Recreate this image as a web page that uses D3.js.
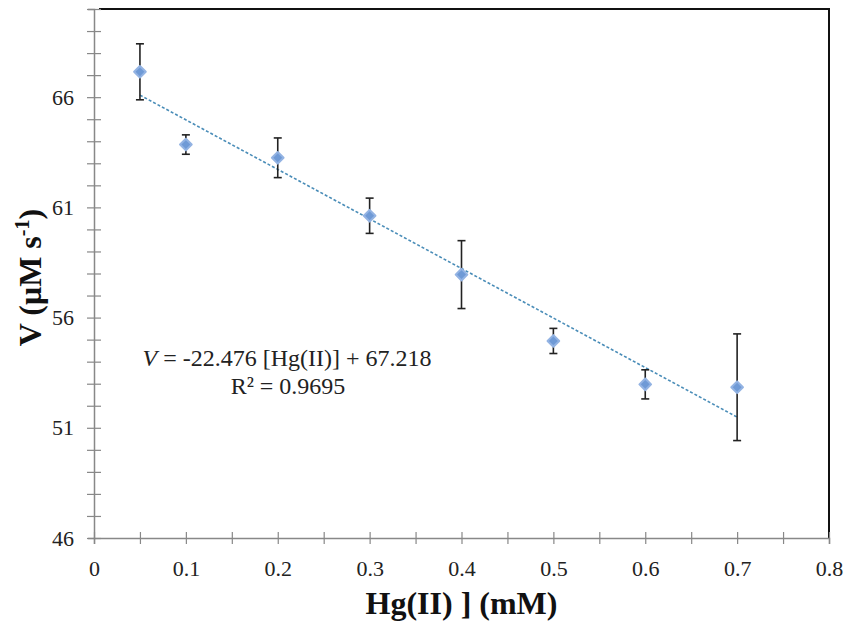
<!DOCTYPE html>
<html>
<head>
<meta charset="utf-8">
<script src="https://cdn.jsdelivr.net/npm/d3@7"></script>
<style>
  body { margin: 0; background: #fff; }
  svg { display: block; font-family: "Liberation Serif", "Times New Roman", serif; }
</style>
</head>
<body>
<div id="chart-container"></div>
<script>
// measured values
const conc = [0.05, 0.1, 0.2, 0.3, 0.4, 0.5, 0.6, 0.7];
const rate = [67.15, 63.85, 63.25, 60.62, 57.95, 54.94, 52.97, 52.84];
const errs = [1.27, 0.44, 0.9, 0.8, 1.54, 0.57, 0.66, 2.42];

// linear fit reported on the chart
const slope = -22.476;
const intercept = 67.218;
const fitRange = [0.05, 0.7];

const xTicks = d3.range(0, 0.801, 0.05);
const yTicks = d3.range(46, 71, 1);
const yLabelled = [46, 51, 56, 61, 66];

const margin = {top: 9, right: 19, bottom: 88, left: 94};
const width = 848 - margin.left - margin.right;
const height = 626 - margin.top - margin.bottom;
const serif = '"Liberation Serif", "Times New Roman", serif';

const svg = d3.select("#chart-container")
  .append("svg")
  .attr("width", 848)
  .attr("height", 626)
  .append("g")
  .attr("transform", `translate(${margin.left},${margin.top})`);

const x = d3.scaleLinear().domain([0, 0.8]).range([0, width]);
const y = d3.scaleLinear().domain([46, 70]).range([height, 0]);

// frame: top and right in black
svg.append("line")
  .attr("x1", 5).attr("x2", width + 1)
  .attr("y1", 0).attr("y2", 0)
  .attr("stroke", "#111").attr("stroke-width", 2);
svg.append("line")
  .attr("x1", width).attr("x2", width)
  .attr("y1", 0).attr("y2", height)
  .attr("stroke", "#111").attr("stroke-width", 2);

// y axis
const yAxis = svg.append("g")
  .call(d3.axisLeft(y)
    .tickValues(yTicks)
    .tickSize(6)
    .tickPadding(14)
    .tickFormat(d => yLabelled.includes(d) ? d : ""));
yAxis.attr("font-family", serif);
yAxis.select(".domain").attr("stroke", "#888").attr("stroke-width", 1.5);
yAxis.selectAll(".tick line").attr("x1", -7).attr("x2", 7).attr("stroke", "#888").attr("stroke-width", 1.2);
yAxis.selectAll(".tick text")
  .style("font-size", "22px")
  .style("font-family", serif)
  .attr("fill", "#222");

// x axis
const xAxis = svg.append("g")
  .attr("transform", `translate(0,${height})`)
  .call(d3.axisBottom(x)
    .tickValues(xTicks)
    .tickSize(6)
    .tickPadding(16)
    .tickFormat(d => {
      const r = Math.round(d * 100);
      return r % 10 === 0 ? d3.format("")(+(r / 100).toFixed(1)) : "";
    }));
xAxis.attr("font-family", serif);
xAxis.select(".domain").attr("stroke", "#888").attr("stroke-width", 1.5);
xAxis.selectAll(".tick line").attr("y1", -6).attr("y2", 6).attr("stroke", "#888").attr("stroke-width", 1.2);
xAxis.selectAll(".tick text")
  .style("font-size", "22px")
  .style("font-family", serif)
  .attr("fill", "#222");

// trend line
svg.append("line")
  .attr("x1", x(fitRange[0]))
  .attr("y1", y(slope * fitRange[0] + intercept))
  .attr("x2", x(fitRange[1]))
  .attr("y2", y(slope * fitRange[1] + intercept))
  .attr("stroke", "#4a8db8")
  .attr("stroke-width", 1.6)
  .attr("stroke-dasharray", "3,2");

const points = conc.map((c, i) => ({c: c, v: rate[i], e: errs[i]}));

// error bars
const bars = svg.selectAll(".err")
  .data(points)
  .enter()
  .append("g")
  .attr("class", "err")
  .attr("stroke", "#222")
  .attr("stroke-width", 1.6);

bars.append("line")
  .attr("x1", d => x(d.c)).attr("x2", d => x(d.c))
  .attr("y1", d => y(d.v + d.e)).attr("y2", d => y(d.v - d.e));
bars.append("line")
  .attr("x1", d => x(d.c) - 4).attr("x2", d => x(d.c) + 4)
  .attr("y1", d => y(d.v + d.e)).attr("y2", d => y(d.v + d.e));
bars.append("line")
  .attr("x1", d => x(d.c) - 4).attr("x2", d => x(d.c) + 4)
  .attr("y1", d => y(d.v - d.e)).attr("y2", d => y(d.v - d.e));

// markers: soft diamonds
svg.selectAll(".pt")
  .data(points)
  .enter()
  .append("path")
  .attr("class", "pt")
  .attr("d", d3.symbol().type(d3.symbolSquare).size(68))
  .attr("transform", d => `translate(${x(d.c)},${y(d.v)})rotate(45)`)
  .attr("fill", "#6f9ad6")
  .attr("stroke", "#93b3e3")
  .attr("stroke-width", 2)
  .attr("stroke-linejoin", "round");

// equation
const eq = svg.append("text")
  .attr("x", 287 - margin.left)
  .attr("y", 366 - margin.top)
  .attr("text-anchor", "middle")
  .style("font-size", "24px")
  .attr("fill", "#222");
eq.append("tspan").style("font-style", "italic").text("V");
eq.append("tspan").text(" = -22.476 [Hg(II)] + 67.218");

svg.append("text")
  .attr("x", 288 - margin.left)
  .attr("y", 394 - margin.top)
  .attr("text-anchor", "middle")
  .style("font-size", "24px")
  .attr("fill", "#222")
  .text("R² = 0.9695");

// axis titles
svg.append("text")
  .attr("x", width / 2)
  .attr("y", height + 76)
  .attr("text-anchor", "middle")
  .style("font-size", "32px")
  .style("font-weight", "bold")
  .attr("fill", "#111")
  .text("Hg(II) ] (mM)");

const yTitle = svg.append("text")
  .attr("transform", `translate(${-margin.left + 41},${height / 2 + 4})rotate(-90)`)
  .attr("text-anchor", "middle")
  .style("font-size", "32px")
  .style("font-weight", "bold")
  .attr("fill", "#111");
yTitle.append("tspan").text("V (μM s");
yTitle.append("tspan").attr("dy", -12).style("font-size", "20px").text("-1");
yTitle.append("tspan").attr("dy", 12).text(")");
</script>
</body>
</html>
